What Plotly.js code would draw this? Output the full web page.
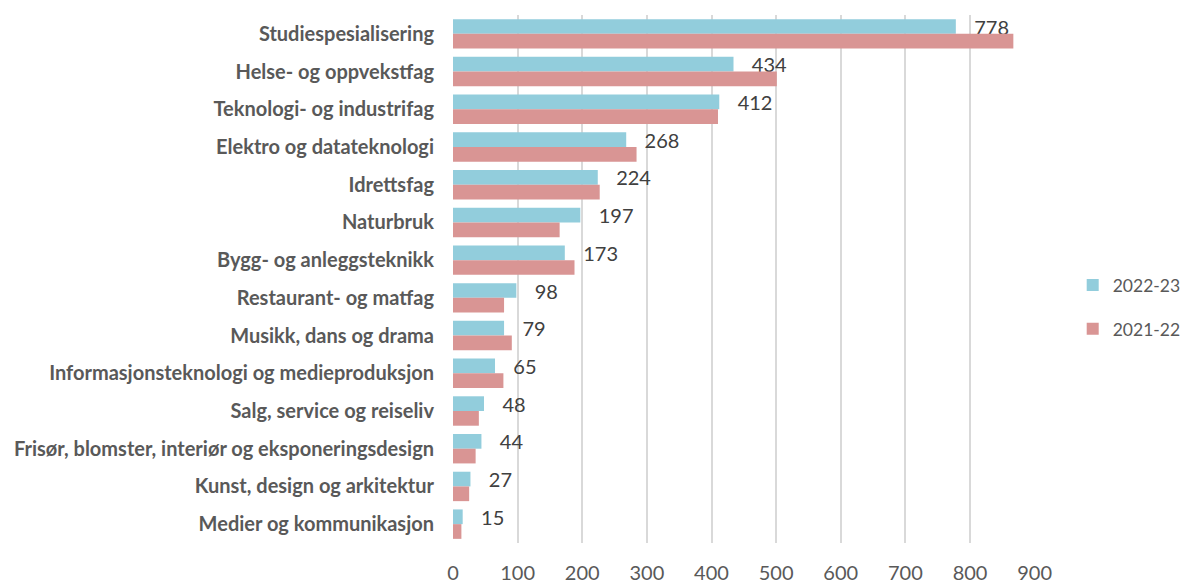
<!DOCTYPE html>
<html>
<head>
<meta charset="utf-8">
<script src="https://cdn.plot.ly/plotly-3.0.1.min.js"></script>
<style>
  body { margin: 0; background: #fff; }
  #graph { width: 1184px; height: 583px; }
</style>
</head>
<body>
<div id="graph"></div>
<script>
var programs = [
    'Studiespesialisering',
    'Helse- og oppvekstfag',
    'Teknologi- og industrifag',
    'Elektro og datateknologi',
    'Idrettsfag',
    'Naturbruk',
    'Bygg- og anleggsteknikk',
    'Restaurant- og matfag',
    'Musikk, dans og drama',
    'Informasjonsteknologi og medieproduksjon',
    'Salg, service og reiseliv',
    'Frisør, blomster, interiør og eksponeringsdesign',
    'Kunst, design og arkitektur',
    'Medier og kommunikasjon'
];
var applicants2223 = [778, 434, 412, 268, 224, 197, 173, 98, 79, 65, 48, 44, 27, 15];
var applicants2122 = [867, 501, 410, 284, 227, 165, 188, 79, 91, 78, 40, 35, 25, 13];
var xTicks = [0, 100, 200, 300, 400, 500, 600, 700, 800, 900];

var trace1 = {
    type: 'bar',
    orientation: 'h',
    name: '2022-23',
    legendgroup: 'a',
    y: programs,
    x: applicants2223,
    marker: {color: '#92cddc'},
    text: applicants2223,
    texttemplate: '\u00a0\u00a0\u00a0%{x}',
    textposition: 'outside',
    constraintext: 'none',
    cliponaxis: false,
    textfont: {family: 'Lato', size: 20, color: '#404040'},
    hoverinfo: 'x+name'
};
var trace2 = {
    type: 'bar',
    orientation: 'h',
    name: '2021-22',
    legendgroup: 'b',
    y: programs,
    x: applicants2122,
    marker: {color: '#d99594'},
    hoverinfo: 'x+name'
};

var layout = {
    width: 1184,
    height: 583,
    margin: {l: 453, r: 149, t: 15, b: 40},
    barmode: 'group',
    bargap: 0.22,
    bargroupgap: 0,
    paper_bgcolor: '#ffffff',
    plot_bgcolor: '#ffffff',
    font: {family: 'Lato', color: '#595959'},
    xaxis: {
        range: [0, 900.5],
        tickvals: xTicks,
        showgrid: true,
        gridcolor: '#d9d9d9',
        gridwidth: 2,
        zeroline: false,
        showline: false,
        ticklabelstandoff: 16,
        tickfont: {family: 'Lato', size: 20, color: '#595959'}
    },
    yaxis: {
        autorange: 'reversed',
        showgrid: false,
        zeroline: false,
        showline: false,
        ticklabelstandoff: 18,
        tickfont: {family: 'Lato', size: 20, color: '#595959', weight: 'bold'}
    },
    legend: {
        xref: 'container',
        yref: 'container',
        x: 0.906,
        y: 0.473,
        xanchor: 'left',
        yanchor: 'middle',
        traceorder: 'grouped',
        tracegroupgap: 18,
        itemwidth: 30,
        font: {family: 'Lato', size: 17.5, color: '#595959'}
    },
    showlegend: true
};

Plotly.newPlot(document.getElementById('graph'), [trace1, trace2], layout, {displayModeBar: false, showLink: false});
</script>
</body>
</html>
